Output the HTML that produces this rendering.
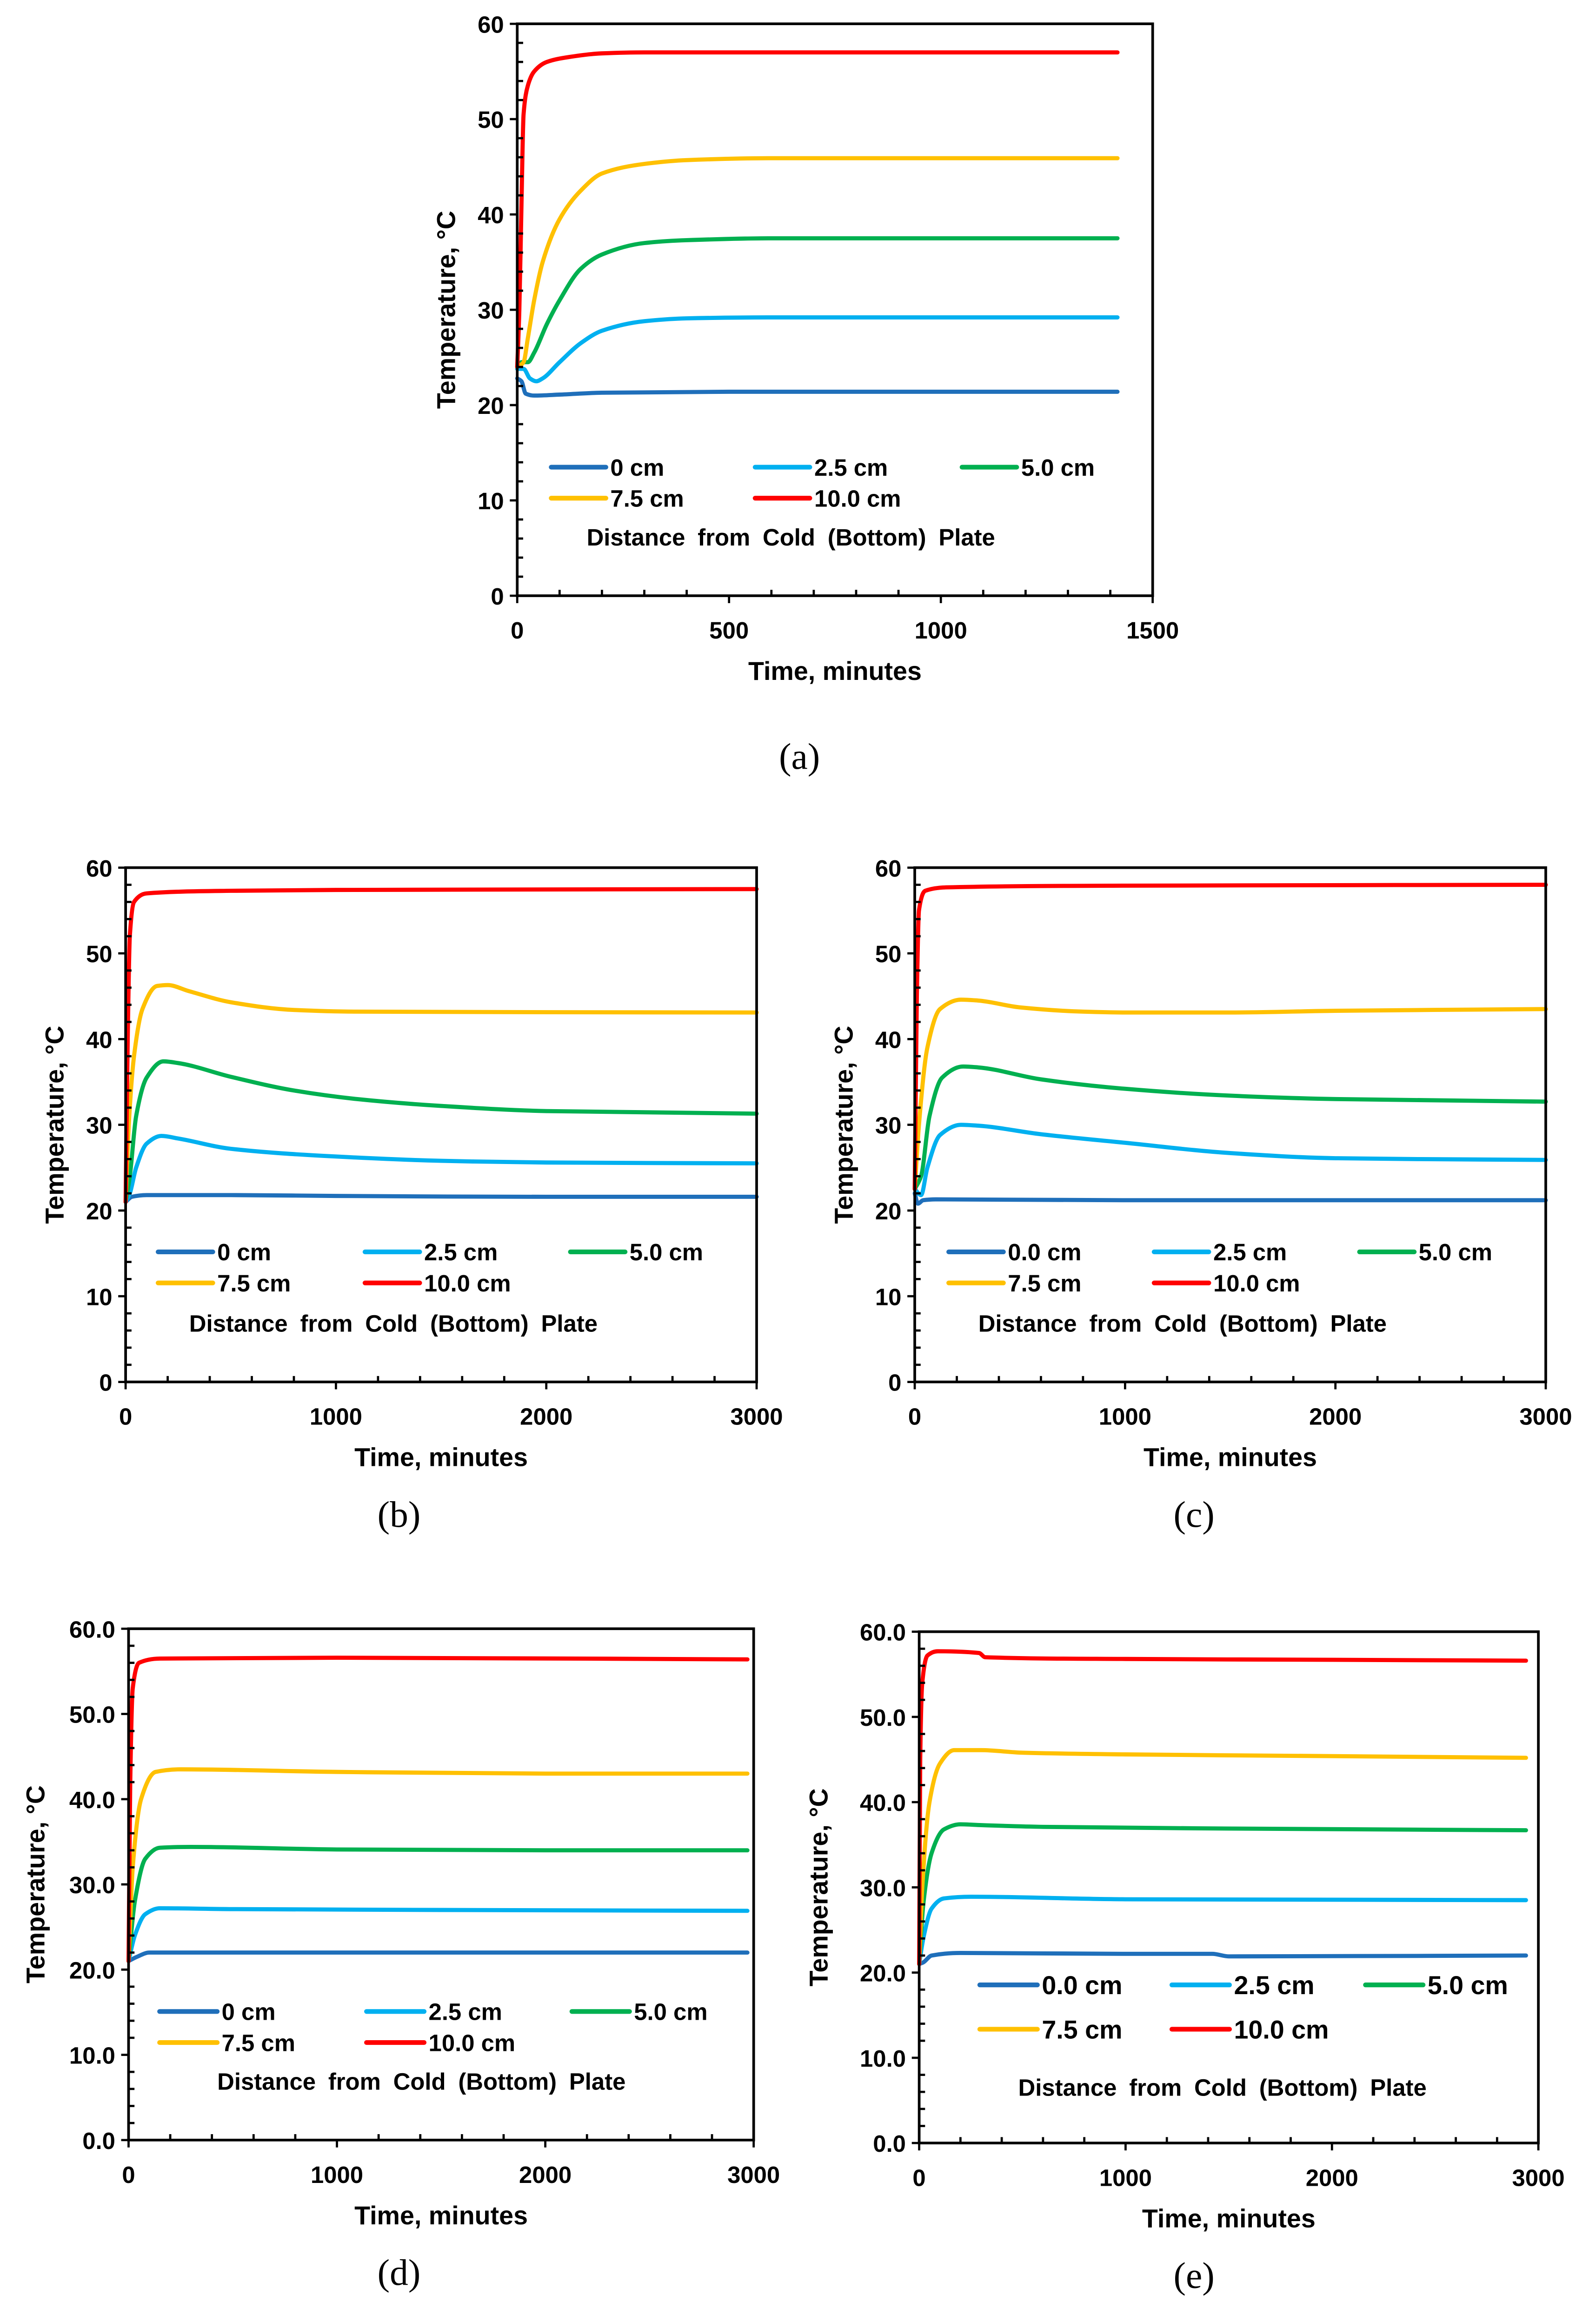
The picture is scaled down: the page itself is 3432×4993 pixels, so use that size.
<!DOCTYPE html>
<html><head><meta charset="utf-8">
<style>
html,body{margin:0;padding:0;background:#fff;}
svg{display:block;}
text{font-family:"Liberation Sans",Arial,sans-serif;font-weight:bold;fill:#000;}
.cap{font-family:"Liberation Serif","Times New Roman",serif;font-weight:normal;}
</style></head>
<body>
<svg id="fig" xmlns="http://www.w3.org/2000/svg" width="3432" height="4993" viewBox="0 0 1080 1571"></svg>
<script>
// ---------- data ----------
const seriesNames = ["0 cm","2.5 cm","5.0 cm","7.5 cm","10.0 cm"];
const seriesColors = ["#1F6FBA","#00B0F0","#00B050","#FFC000","#FF0000"];
const yTicksA = [0,10,20,30,40,50,60];
const yTicksDecimal = ["0.0","10.0","20.0","30.0","40.0","50.0","60.0"];
const xTicksA = [0,500,1000,1500];
const xTicksB = [0,1000,2000,3000];

const a0 = [[0,22.8],[10,22.5],[20,21.2],[40,21],[100,21.1],[200,21.3],[500,21.4],[1417,21.4]];
const a25 = [[0,23.8],[15,23.8],[30,22.8],[45,22.5],[60,22.8],[100,24.5],[150,26.5],[200,27.8],[300,28.8],[400,29.1],[600,29.2],[1417,29.2]];
const a50 = [[0,24],[10,24.5],[25,24.5],[40,25.5],[70,28.5],[100,31],[150,34.3],[200,35.8],[300,37],[400,37.3],[600,37.5],[1417,37.5]];
const a75 = [[0,24],[15,24.5],[25,27],[40,31],[60,35],[100,39.5],[150,42.5],[200,44.3],[300,45.3],[400,45.7],[600,45.9],[1417,45.9]];
const a100 = [[0,24],[5,30],[10,41],[15,50.5],[25,53.5],[40,55],[70,56],[120,56.5],[200,56.9],[300,57],[1417,57]];

const b0 = [[0,21],[30,21.6],[100,21.8],[500,21.8],[1000,21.7],[2000,21.6],[3000,21.6]];
const b25 = [[0,21],[20,22],[50,25],[100,27.8],[170,28.7],[250,28.4],[500,27.2],[1000,26.3],[1500,25.8],[2000,25.6],[3000,25.5]];
const b50 = [[0,21],[20,24],[50,31],[100,35.5],[180,37.4],[250,37.2],[500,35.6],[800,34],[1100,33],[1500,32.2],[2000,31.6],[3000,31.3]];
const b75 = [[0,21],[15,30],[40,38],[80,43.5],[150,46.2],[200,46.3],[300,45.6],[500,44.3],[800,43.4],[1100,43.2],[3000,43.1]];
const b100 = [[0,21],[10,40],[20,52],[40,56],[100,57],[500,57.3],[1000,57.4],[3000,57.5]];

const c0 = [[0,22],[15,20.8],[40,21.2],[100,21.3],[1000,21.2],[3000,21.2]];
const c25 = [[0,22.5],[30,21.8],[60,25],[120,28.8],[220,30],[300,29.9],[600,28.9],[1000,27.9],[1500,26.7],[2000,26.1],[3000,25.9]];
const c50 = [[0,22.5],[30,24],[70,31],[130,35.5],[230,36.8],[300,36.7],[600,35.3],[1000,34.2],[1500,33.4],[2000,33],[3000,32.7]];
const c75 = [[0,22.5],[20,30],[60,39],[120,43.5],[220,44.6],[300,44.5],[500,43.7],[800,43.2],[1000,43.1],[1500,43.1],[2000,43.3],[3000,43.5]];
const c100 = [[0,22.5],[10,45],[20,55],[50,57.3],[150,57.7],[1000,57.9],[3000,58]];

const d0 = [[0,21],[40,21.5],[100,22],[1000,22],[2000,22],[2970,22]];
const d25 = [[0,21],[30,24],[80,26.5],[150,27.2],[500,27.1],[1500,27],[2970,26.9]];
const d50 = [[0,21],[30,28],[80,33],[150,34.3],[300,34.4],[1000,34.1],[2000,34],[2970,34]];
const d75 = [[0,21],[20,32],[60,40],[130,43.2],[250,43.5],[1000,43.2],[2000,43],[2970,43]];
const d100 = [[0,21],[8,42],[20,53],[50,56],[150,56.5],[1000,56.6],[2970,56.4]];

const e0 = [[0,21],[20,21.2],[60,22],[200,22.3],[1000,22.2],[1420,22.2],[1500,21.9],[2940,22]];
const e25 = [[0,21],[20,24],[60,27.5],[120,28.7],[250,28.9],[1000,28.6],[2940,28.5]];
const e50 = [[0,21],[20,28],[60,34],[120,36.8],[200,37.4],[300,37.3],[600,37.1],[1500,36.9],[2940,36.7]];
const e75 = [[0,21],[15,30],[50,40],[100,44.5],[170,46.1],[300,46.1],[500,45.8],[1000,45.6],[2000,45.4],[2940,45.2]];
const e100 = [[0,21],[5,45],[15,54],[40,57.2],[90,57.7],[290,57.5],[320,57],[1000,56.8],[2000,56.7],[2940,56.6]];

// ---------- drawing ----------
const NS = "http://www.w3.org/2000/svg";
const svg = document.getElementById("fig");
function mk(tag, attrs, parent){
  const el = document.createElementNS(NS, tag);
  for (const k in attrs) el.setAttribute(k, attrs[k]);
  (parent||svg).appendChild(el);
  return el;
}
// monotone cubic (Fritsch-Carlson) in pixel space
function smoothPath(pts){
  const n = pts.length;
  const dx=[], dy=[], m=[];
  for (let i=0;i<n-1;i++){ dx[i]=pts[i+1][0]-pts[i][0]; dy[i]=pts[i+1][1]-pts[i][1]; m[i]=dy[i]/dx[i]; }
  const t=[m[0]];
  for (let i=1;i<n-1;i++){
    if (m[i-1]*m[i]<=0) t[i]=0;
    else { const w1=2*dx[i]+dx[i-1], w2=dx[i]+2*dx[i-1]; t[i]=(w1+w2)/(w1/m[i-1]+w2/m[i]); }
  }
  t[n-1]=m[n-2];
  let d = "M"+pts[0][0].toFixed(2)+","+pts[0][1].toFixed(2);
  for (let i=0;i<n-1;i++){
    const h=dx[i]/3;
    d+=" C"+(pts[i][0]+h).toFixed(2)+","+(pts[i][1]+t[i]*h).toFixed(2)+" "+(pts[i+1][0]-h).toFixed(2)+","+(pts[i+1][1]-t[i+1]*h).toFixed(2)+" "+pts[i+1][0].toFixed(2)+","+pts[i+1][1].toFixed(2);
  }
  return d;
}

function chart(cfg){
  const g = mk("g", {});
  
  
  const xs = v => cfg.x0 + (v/cfg.xmax)*(cfg.x1-cfg.x0);
  const ys = v => cfg.yb - (v/60)*(cfg.yb-cfg.yt);
  cfg.series.forEach((s,i)=>{
    const p = mk("path", {d:smoothPath(s.map(q=>[xs(q[0]),ys(q[1])])), fill:"none", stroke:seriesColors[i], "stroke-width":2.8, "stroke-linejoin":"round","stroke-linecap":"round"}, g);
    
    
  });
  const fr = mk("rect", {x:cfg.x0, y:cfg.yt, width:cfg.x1-cfg.x0, height:cfg.yb-cfg.yt, fill:"none", stroke:"#000", "stroke-width":1.8}, g);
  
  
  for (let v=0; v<=60; v+=2){
    const major = v%10===0;
    mk("line",{x1: major?cfg.x0-5:cfg.x0, x2: cfg.x0+(major?0:4), y1:ys(v), y2:ys(v), stroke:"#000","stroke-width":1.5}, g);
  }
  yTicksA.forEach((v,i)=>{
    const t = mk("text",{x:cfg.x0-9, y:ys(v)+6, "text-anchor":"end","font-size":16}, g);
    t.textContent = cfg.decimal ? yTicksDecimal[i] : String(v);
    
    
  });
  for (let v=0; v<=cfg.xmax; v+=cfg.minor){
    const major = v%cfg.major===0;
    mk("line",{x1:xs(v), x2:xs(v), y1: cfg.yb-(major?0:4), y2: cfg.yb+(major?5:0), stroke:"#000","stroke-width":1.5}, g);
  }
  cfg.xticks.forEach(v=>{
    const t = mk("text",{x:xs(v), y:cfg.yb+29, "text-anchor":"middle","font-size":16}, g);
    t.textContent = String(v);
    
    
  });
  const xt = mk("text",{x:(cfg.x0+cfg.x1)/2, y:cfg.yb+57, "text-anchor":"middle","font-size":17.5}, g);
  xt.textContent = "Time, minutes";
  
  
  const ytx = cfg.ytx, yty=(cfg.yt+cfg.yb)/2;
  const yt = mk("text",{x:ytx, y:yty, "text-anchor":"middle","font-size":17.5, transform:"rotate(-90 "+ytx+" "+yty+")"}, g);
  yt.textContent = "Temperature, \u00B0C";
  
  
  const L = cfg.leg;
  cfg.labels.forEach((lab,i)=>{
    const col = i%3, row = Math.floor(i/3);
    const lx = L.cols[col], ly = L.rows[row];
    const ln = mk("line",{x1:lx, x2:lx+L.len, y1:ly, y2:ly, stroke:seriesColors[i], "stroke-width":3.2,"stroke-linecap":"round"}, g);
    
    
    const t = mk("text",{x:lx+L.len+3, y:ly+L.fs*0.36, "font-size":L.fs}, g);
    t.textContent = lab;
    
    
  });
  const cp = mk("text",{x:L.capx, y:L.capy, "font-size":L.cfs, "word-spacing":4}, g);
  cp.textContent = "Distance from Cold (Bottom) Plate";
  
  
  const pl = mk("text",{x:cfg.lx, y:cfg.ly, "text-anchor":"middle","font-size":25, class:"cap"}, g);
  pl.textContent = "("+cfg.id+")";
  
  
}

const L1 = ["0 cm","2.5 cm","5.0 cm","7.5 cm","10.0 cm"];
const L2 = ["0.0 cm","2.5 cm","5.0 cm","7.5 cm","10.0 cm"];

chart({id:"a", x0:350, x1:780, yt:16, yb:403, xmax:1500, major:500, minor:100, xticks:xTicksA, ytx:308,
  series:[a0,a25,a50,a75,a100], labels:L1,
  leg:{cols:[373,511,651], rows:[316,337], len:37, fs:16, capx:397, capy:369, cfs:16}, lx:541, ly:520});
chart({id:"b", x0:85, x1:512, yt:587, yb:935, xmax:3000, major:1000, minor:200, xticks:xTicksB, ytx:43,
  series:[b0,b25,b50,b75,b100], labels:L1,
  leg:{cols:[107,247,386], rows:[847,868], len:37, fs:16, capx:128, capy:901, cfs:16}, lx:270, ly:1033});
chart({id:"c", x0:619, x1:1046, yt:587, yb:935, xmax:3000, major:1000, minor:200, xticks:xTicksB, ytx:577,
  series:[c0,c25,c50,c75,c100], labels:L2,
  leg:{cols:[642,781,920], rows:[847,868], len:37, fs:16, capx:662, capy:901, cfs:16}, lx:808, ly:1033});
chart({id:"d", x0:87, x1:510, yt:1102, yb:1448, xmax:3000, major:1000, minor:200, xticks:xTicksB, ytx:30, decimal:true,
  series:[d0,d25,d50,d75,d100], labels:L1,
  leg:{cols:[108,248,387], rows:[1361,1382], len:39, fs:16, capx:147, capy:1414, cfs:16}, lx:270, ly:1546});
chart({id:"e", x0:622, x1:1041, yt:1104, yb:1450, xmax:3000, major:1000, minor:200, xticks:xTicksB, ytx:560, decimal:true,
  series:[e0,e25,e50,e75,e100], labels:L2,
  leg:{cols:[663,793,924], rows:[1343,1373], len:39, fs:17.5, capx:689, capy:1418, cfs:16}, lx:808, ly:1548});
</script>
</body></html>
